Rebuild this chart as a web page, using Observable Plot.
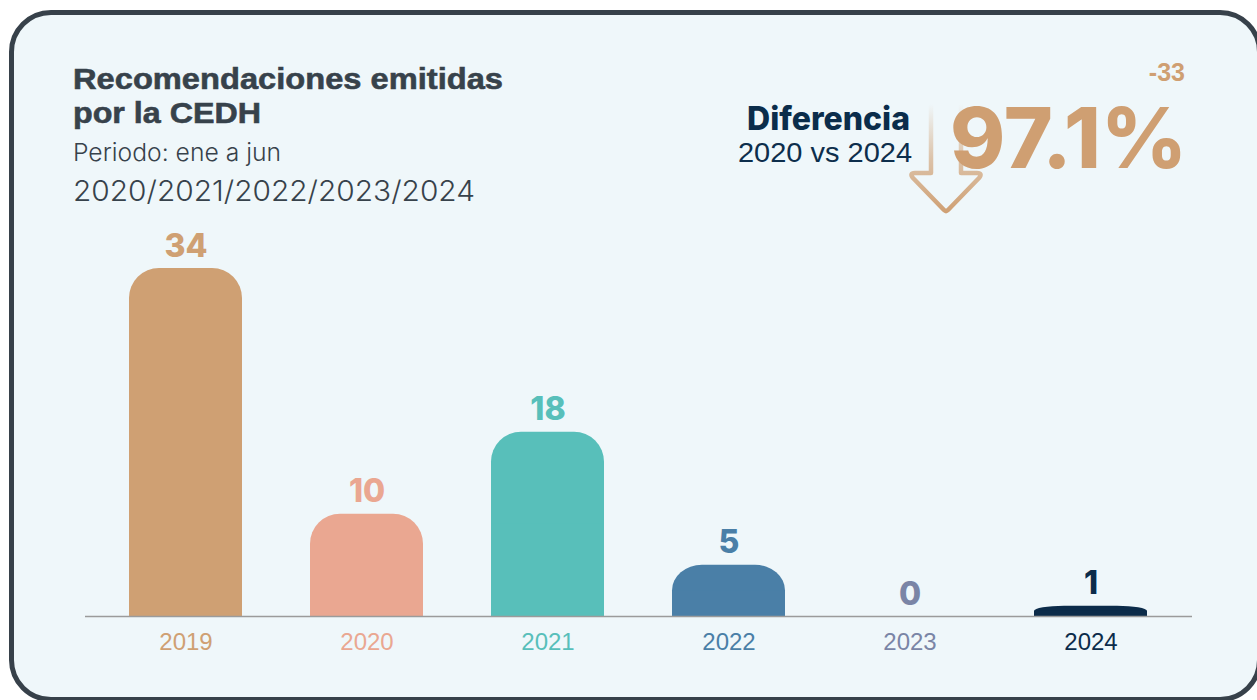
<!DOCTYPE html>
<html>
<head>
<meta charset="utf-8">
<script src="https://cdn.jsdelivr.net/npm/d3@7"></script>
<script src="https://cdn.jsdelivr.net/npm/@observablehq/plot@0.6"></script>
<style>
  html, body { margin: 0; padding: 0; background: #ffffff; }
  body { width: 1257px; height: 700px; position: relative; overflow: hidden; }
  #card {
    position: absolute; left: 9px; top: 10px; width: 1253px; height: 692px;
    box-sizing: border-box; border: 5px solid #37414a; border-radius: 42px;
    background: #eff7fa;
  }
  #deco, #chart { position: absolute; left: 0; top: 0; }
  #chart svg { overflow: visible; }
</style>
</head>
<body>
<div id="card"></div>
<svg id="deco" width="1257" height="700" xmlns="http://www.w3.org/2000/svg">
  <defs>
    <linearGradient id="arrowGrad" x1="0" y1="104" x2="0" y2="214" gradientUnits="userSpaceOnUse">
      <stop offset="0" stop-color="#cf9f72" stop-opacity="0"/>
      <stop offset="0.5" stop-color="#cf9f72" stop-opacity="0.6"/>
      <stop offset="1" stop-color="#cf9f72" stop-opacity="1"/>
    </linearGradient>
  </defs>
  <path d="M931,104 L931,173 L915,173 Q909,173 913,178 L944,210 Q946,212 948,210 L979,178 Q983,173 977,173 L961,173 L961,104"
        fill="none" stroke="url(#arrowGrad)" stroke-width="4.5" stroke-linejoin="round" stroke-linecap="round"/>
  <g font-family="'Liberation Sans', Arial, sans-serif" fill="#37424b">
    <text x="73" y="89" font-size="30" font-weight="700" textLength="430" lengthAdjust="spacingAndGlyphs" stroke="#37424b" stroke-width="0.6">Recomendaciones emitidas</text>
    <text x="73" y="123" font-size="30" font-weight="700" textLength="188" lengthAdjust="spacingAndGlyphs" stroke="#37424b" stroke-width="0.6">por la CEDH</text>
  </g>
  <g font-family="Inter, 'Noto Sans', sans-serif" fill="#37424b">
    <text x="73" y="161" font-size="24" font-weight="300" textLength="208" lengthAdjust="spacingAndGlyphs">Periodo: ene a jun</text>
    <text x="73" y="201" font-size="28" font-weight="300" textLength="402" lengthAdjust="spacingAndGlyphs">2020/2021/2022/2023/2024</text>
  </g>
  <g id="diffText"></g>
</svg>
<div id="chart"></div>
<script>
// ---- Data ----
const years  = ["2019", "2020", "2021", "2022", "2023", "2024"];
const values = [34, 10, 18, 5, 0, 1];
const colors = ["#cfa073", "#eaa791", "#58bfba", "#4a7fa7", "#7a85a6", "#0c2c4a"];

const data = years.map((year, i) => ({year, value: values[i], color: colors[i]}));

// Difference summary derived from the data (first vs last year)
const diff = values[values.length - 1] - values[0];
const pct = Math.abs(diff) / values[0] * 100;

const ns = "http://www.w3.org/2000/svg";
const g = document.getElementById("diffText");
function addText(x, y, str, attrs) {
  const t = document.createElementNS(ns, "text");
  t.setAttribute("x", x); t.setAttribute("y", y);
  for (const k in attrs) t.setAttribute(k, attrs[k]);
  t.textContent = str;
  g.appendChild(t);
}
addText(910, 130, "Diferencia", {"font-family": "Inter, sans-serif", "font-size": 32, "font-weight": 800, fill: "#0b2d4b", "text-anchor": "end"});
addText(912, 162, "2020 vs 2024", {"font-family": "'Liberation Sans', Arial, sans-serif", "font-size": 28, fill: "#0d2e4c", "text-anchor": "end", textLength: 174, lengthAdjust: "spacingAndGlyphs"});
addText(1187, 168, pct.toFixed(1) + "%", {"font-family": "Inter, sans-serif", "font-size": 84, "font-weight": 800, fill: "#cf9f72", "text-anchor": "end", textLength: 237, lengthAdjust: "spacingAndGlyphs"});
addText(1185, 81, String(diff), {"font-family": "'Liberation Sans', Arial, sans-serif", "font-size": 25, "font-weight": 700, fill: "#cf9f72", "text-anchor": "end"});

// ---- Chart ----
const chart = Plot.plot({
  width: 1257,
  height: 700,
  marginLeft: 85,
  marginRight: 65,
  marginTop: 268,
  marginBottom: 84,
  style: {background: "transparent", overflow: "visible"},
  x: {type: "band", domain: years, paddingInner: 0.373, paddingOuter: 0.233, axis: null},
  y: {domain: [0, 34], axis: null},
  color: {type: "identity"},
  marks: [
    Plot.barY(data, {x: "year", y: "value", fill: "color", rx: 30}),
    Plot.barY(data, {x: "year", y: d => d.value / 2, fill: "color"}),
    Plot.ruleY([0], {stroke: "#9b9b9b", strokeWidth: 1.3}),
    Plot.text(data, {
      x: "year", y: "value", text: d => String(d.value), fill: "color",
      dy: -12, lineAnchor: "bottom",
      fontSize: 32, fontWeight: 800, fontFamily: "Inter, sans-serif"
    }),
    Plot.text(data, {
      x: "year", y: 0, text: "year", fill: "color",
      dy: 26, lineAnchor: "middle",
      fontSize: 24, fontFamily: "'Liberation Sans', Arial, sans-serif"
    })
  ]
});
document.getElementById("chart").appendChild(chart);
</script>
</body>
</html>
